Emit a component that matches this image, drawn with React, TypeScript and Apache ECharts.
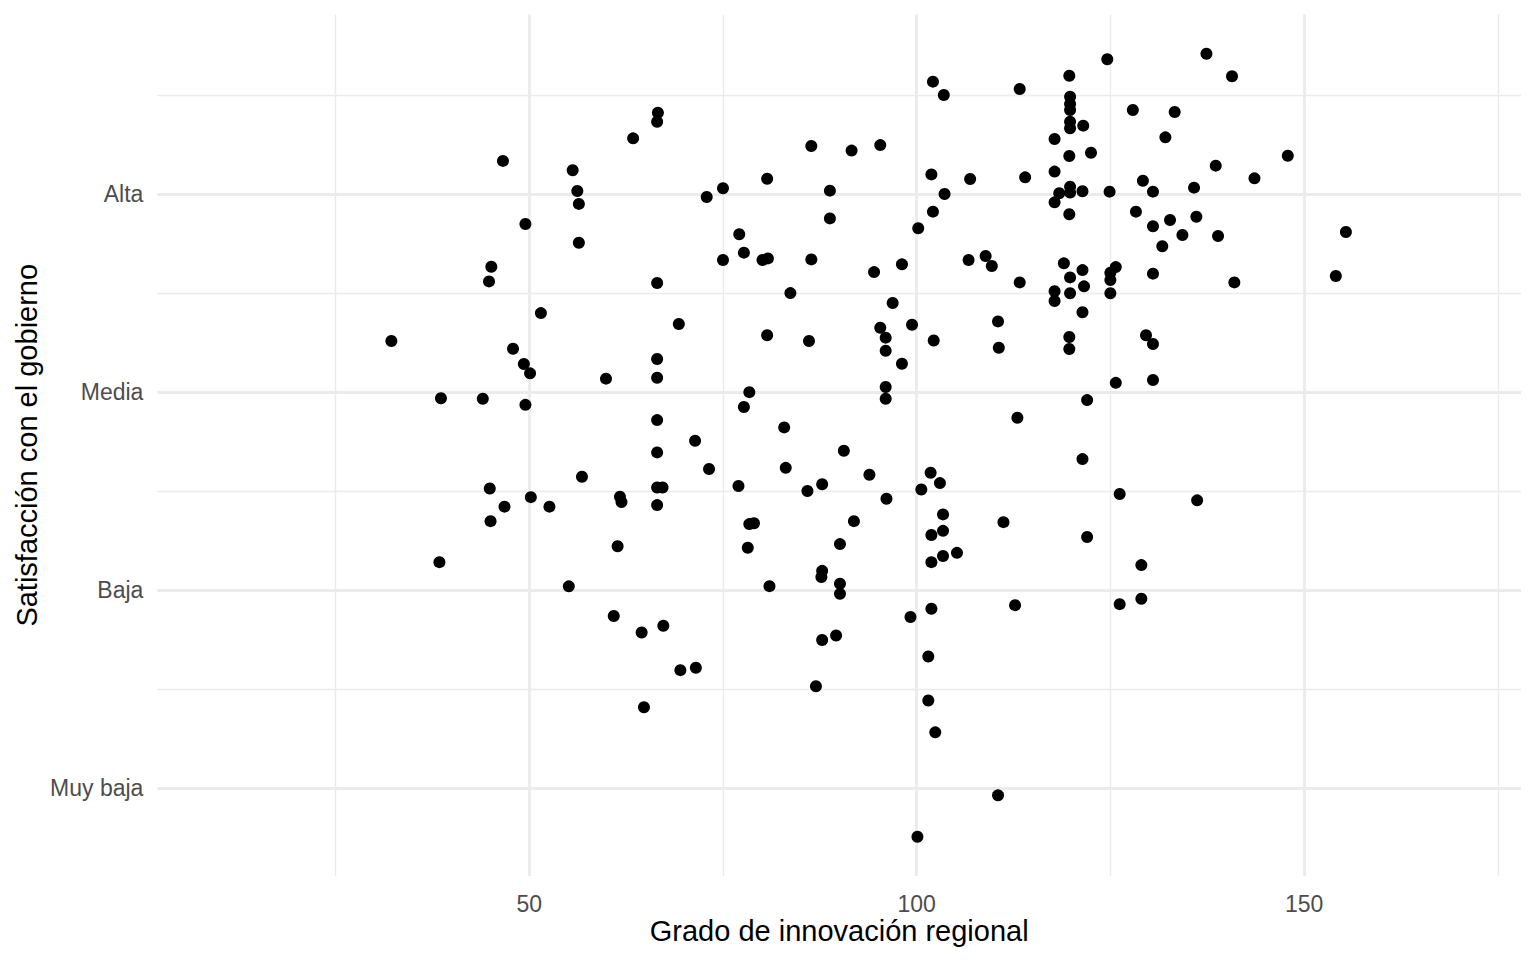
import React, { useEffect, useRef } from "react";
import * as echarts from "echarts";

// Grado de innovación regional (x) for each region
const innovacion: number[] = [
  66.6, 66.5, 63.4, 46.6, 55.6, 56.2, 56.4, 49.5, 56.4, 72.9,
  75.0, 45.1, 44.8, 66.5, 75.0, 51.5, 69.3, 32.2, 47.9, 49.3,
  50.1, 59.9, 66.5, 66.5, 38.6, 44.0, 49.5, 66.5, 71.4, 66.5,
  73.2, 56.8, 44.9, 66.5, 67.2, 50.2, 61.7, 61.9, 46.8, 52.6,
  66.5, 45.0, 61.4, 38.4, 55.1, 60.9, 64.5, 67.3, 69.5, 71.5,
  64.8, 102.1, 103.5, 113.3, 119.7, 86.4, 91.6, 95.3, 80.7, 88.8,
  88.8, 101.9, 103.6, 102.1, 100.2, 106.9, 114.0, 117.8, 117.8, 119.7,
  77.1, 77.7, 80.1, 80.8, 86.4, 94.5, 98.1, 83.7, 96.9, 95.3,
  99.4, 96.0, 102.2, 96.0, 98.1, 80.7, 86.1, 78.4, 77.7, 82.9,
  90.6, 96.0, 96.0, 106.7, 108.9, 109.7, 113.3, 110.5, 110.6, 113.0,
  124.6, 137.4, 140.7, 119.8, 119.8, 119.8, 119.8, 119.8, 121.5, 127.9,
  133.3, 132.1, 122.5, 147.9, 138.6, 143.6, 129.2, 135.8, 119.8, 119.8,
  118.4, 117.8, 121.4, 124.9, 130.5, 119.7, 128.3, 130.5, 132.7, 136.1,
  134.3, 138.9, 131.7, 155.4, 119.0, 121.4, 119.8, 121.6, 117.8, 117.8,
  119.8, 121.4, 125.7, 125.0, 125.0, 125.0, 130.5, 141.0, 154.1, 119.7,
  119.7, 129.6, 130.5, 125.7, 130.5, 122.0, 121.4, 126.2, 136.2, 122.0,
  129.0, 126.2, 129.0, 83.1, 77.0, 85.9, 87.8, 93.9, 96.1, 101.8,
  103.0, 100.6, 78.4, 79.0, 91.9, 78.2, 90.1, 103.4, 103.4, 101.9,
  105.2, 103.4, 101.9, 111.2, 87.8, 87.7, 90.1, 90.1, 81.0, 112.7,
  101.9, 99.2, 87.8, 89.6, 101.5, 87.0, 101.5, 102.4, 110.5, 100.1,
];

// Satisfacción con el gobierno (1 = Muy baja ... 4 = Alta), jittered
const satisfaccion: number[] = [
  4.41, 4.365, 4.281, 4.167, 4.12, 4.015, 3.95, 3.849, 3.754, 3.985,
  4.029, 3.633, 3.559, 3.551, 3.667, 3.399, 3.344, 3.258, 3.219, 3.142,
  3.095, 3.068, 3.167, 3.073, 2.969, 2.967, 2.936, 2.859, 2.755, 2.696,
  2.612, 2.573, 2.514, 2.519, 2.519, 2.47, 2.472, 2.445, 2.422, 2.422,
  2.43, 2.349, 2.222, 2.142, 2.02, 1.87, 1.787, 1.821, 1.597, 1.609,
  1.41, 4.567, 4.5, 4.53, 4.597, 4.242, 4.219, 4.247, 4.077, 4.017,
  3.877, 4.099, 4.0, 3.911, 3.827, 4.076, 4.084, 4.278, 4.113, 4.192,
  3.797, 3.704, 3.667, 3.675, 3.67, 3.606, 3.645, 3.5, 3.45, 3.325,
  3.34, 3.275, 3.261, 3.209, 3.143, 3.287, 3.258, 3.0, 2.925, 2.822,
  2.704, 3.026, 2.967, 3.667, 3.687, 3.637, 3.554, 3.357, 3.224, 2.871,
  4.68, 4.708, 4.594, 4.491, 4.454, 4.424, 4.365, 4.332, 4.345, 4.424,
  4.414, 4.286, 4.208, 4.193, 4.143, 4.079, 4.067, 4.032, 4.037, 4.007,
  4.004, 3.958, 4.014, 4.012, 4.012, 3.898, 3.911, 3.837, 3.869, 3.885,
  3.793, 3.788, 3.736, 3.808, 3.65, 3.616, 3.579, 3.534, 3.509, 3.46,
  3.499, 3.403, 3.631, 3.603, 3.566, 3.499, 3.598, 3.554, 3.586, 3.278,
  3.218, 3.287, 3.243, 3.047, 3.061, 2.96, 2.662, 2.486, 2.454, 2.269,
  2.127, 1.93, 1.957, 2.618, 2.526, 2.501, 2.535, 2.583, 2.462, 2.593,
  2.541, 2.509, 2.334, 2.338, 2.349, 2.215, 2.233, 2.383, 2.3, 2.279,
  2.189, 2.173, 2.142, 2.344, 2.098, 2.067, 2.033, 1.982, 2.021, 1.925,
  1.907, 1.865, 1.749, 1.772, 1.666, 1.516, 1.444, 1.283, 0.965, 0.756,
];

const nivelesSatisfaccion: string[] = ["Muy baja", "Baja", "Media", "Alta"];
const xTickLabels: number[] = [50, 100, 150];

const FONT = "'Liberation Sans', Arial, Helvetica, sans-serif";

export default function App() {
  const ref = useRef<HTMLDivElement>(null);

  useEffect(() => {
    if (!ref.current) return;
    const chart = echarts.init(ref.current, null, { renderer: "svg" });
    const data = innovacion.map((x, i) => [x, satisfaccion[i]]);
    const grid = { color: "#EBEBEB" };

    chart.setOption({
      animation: false,
      backgroundColor: "#FFFFFF",
      textStyle: { fontFamily: FONT },
      grid: {
        left: 157.4,
        right: 15,
        top: 14.5,
        bottom: 84,
        containLabel: false,
        outerBoundsMode: "none",
      },
      xAxis: {
        type: "value",
        min: 2,
        max: 178,
        minInterval: 50,
        maxInterval: 50,
        name: "Grado de innovación regional",
        nameLocation: "middle",
        nameGap: 40,
        nameMoveOverlap: false,
        nameTextStyle: { fontSize: 29, color: "#000000", fontFamily: FONT },
        axisLine: { show: false },
        axisTick: { show: false },
        axisLabel: {
          fontSize: 23,
          color: "#4D4D4D",
          margin: 16,
          fontFamily: FONT,
          showMinLabel: false,
          showMaxLabel: false,
          formatter: (v: number) => (xTickLabels.includes(v) ? String(v) : ""),
        },
        splitLine: {
          show: true,
          showMinLine: false,
          showMaxLine: false,
          lineStyle: { color: grid.color, width: 2.8 },
        },
        minorTick: { show: false, splitNumber: 2 },
        minorSplitLine: { show: true, lineStyle: { color: grid.color, width: 1.4 } },
      },
      yAxis: {
        type: "value",
        min: 0.558,
        max: 4.906,
        minInterval: 1,
        maxInterval: 1,
        name: "Satisfacción con el gobierno",
        nameLocation: "middle",
        nameGap: 116,
        nameMoveOverlap: false,
        nameTextStyle: { fontSize: 29, color: "#000000", fontFamily: FONT },
        axisLine: { show: false },
        axisTick: { show: false },
        axisLabel: {
          fontSize: 23,
          color: "#4D4D4D",
          margin: 14,
          fontFamily: FONT,
          showMinLabel: false,
          showMaxLabel: false,
          formatter: (v: number) => {
            const idx = Math.round(v) - 1;
            return Math.abs(v - Math.round(v)) < 1e-6 && idx >= 0 && idx < nivelesSatisfaccion.length
              ? nivelesSatisfaccion[idx]
              : "";
          },
        },
        splitLine: {
          show: true,
          showMinLine: false,
          showMaxLine: false,
          lineStyle: { color: grid.color, width: 2.8 },
        },
        minorTick: { show: false, splitNumber: 2 },
        minorSplitLine: { show: true, lineStyle: { color: grid.color, width: 1.4 } },
      },
      series: [
        {
          type: "scatter",
          data,
          symbol: "circle",
          symbolSize: 12,
          itemStyle: { color: "#000000", opacity: 1 },
          silent: true,
        },
      ],
    });

    return () => chart.dispose();
  }, []);

  return (
    <div
      ref={ref}
      style={{ position: "fixed", left: 0, top: 0, width: 1536, height: 960, background: "#FFFFFF" }}
    />
  );
}
